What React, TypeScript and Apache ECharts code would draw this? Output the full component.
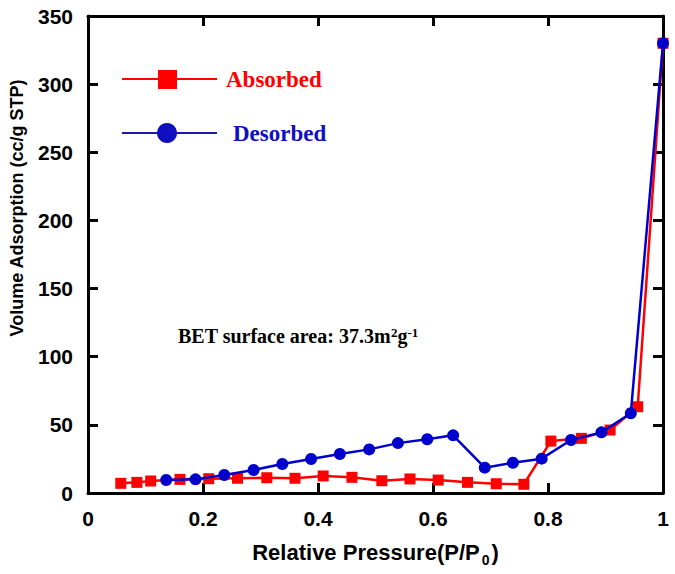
import React, { useEffect, useRef } from "react";
import * as echarts from "echarts";

const absX = [0.057, 0.085, 0.109, 0.16, 0.21, 0.26, 0.311, 0.36, 0.409, 0.459, 0.511, 0.56, 0.609, 0.66, 0.71, 0.758, 0.805, 0.858, 0.908, 0.956, 1.0];
const absY = [7.1, 7.8, 8.8, 10.0, 10.5, 10.8, 11.2, 10.8, 12.5, 11.5, 9.0, 10.3, 9.5, 7.8, 6.8, 6.4, 38.1, 40.1, 46.2, 63.3, 330];
const desX = [0.136, 0.187, 0.237, 0.288, 0.338, 0.388, 0.438, 0.489, 0.539, 0.59, 0.635, 0.69, 0.739, 0.789, 0.84, 0.893, 0.944, 1.0];
const desY = [9.5, 10.0, 13.2, 16.9, 21.3, 24.9, 28.6, 32.0, 36.6, 39.4, 42.3, 18.6, 22.2, 25.2, 38.9, 44.5, 58.5, 330];
const xTicks = { min: 0, max: 1, interval: 0.2 };
const yTicks = { min: 0, max: 350, interval: 50 };
const seriesNames = ["Absorbed", "Desorbed"];

const RED = "#ff0000";
const BLUE = "#0000cd";

export default function App() {
  const ref = useRef<HTMLDivElement>(null);
  useEffect(() => {
    if (!ref.current) return;
    const chart = echarts.init(ref.current, null, { renderer: "svg" });
    const axisLine = { show: true, onZero: false, lineStyle: { color: "#000", width: 3 } };
    const axisTick = { show: true, inside: true, length: 10, lineStyle: { color: "#000", width: 3 } };
    const labelStyle = {
      fontFamily: "Liberation Sans, Arial, sans-serif",
      fontWeight: "bold" as const,
      fontSize: 21,
      color: "#000",
    };
    chart.setOption({
      animation: false,
      backgroundColor: "#fff",
      grid: { left: 88, right: 12, top: 16, bottom: 81, containLabel: false, outerBoundsMode: "none" },
      xAxis: [
        {
          type: "value",
          ...xTicks,
          position: "bottom",
          axisLine,
          axisTick,
          splitLine: { show: false },
          axisLabel: {
            ...labelStyle,
            margin: 15,
            formatter: (v: number) => (v === 0 ? "0" : v === 1 ? "1" : String(Math.round(v * 10) / 10)),
          },
          name: "{a|Relative Pressure(P/P}{s|0}{a|)}",
          nameLocation: "middle",
          nameGap: 44,
          nameTextStyle: {
            rich: {
              a: { ...labelStyle, fontSize: 22 },
              s: { ...labelStyle, fontSize: 14, verticalAlign: "bottom", padding: [16, 2, 0, 2] },
            },
          },
        },
        {
          type: "value",
          ...xTicks,
          position: "top",
          axisLine,
          axisTick,
          axisLabel: { show: false },
          splitLine: { show: false },
        },
      ],
      yAxis: [
        {
          type: "value",
          ...yTicks,
          position: "left",
          axisLine,
          axisTick,
          splitLine: { show: false },
          axisLabel: { ...labelStyle, margin: 15 },
        },
        {
          type: "value",
          ...yTicks,
          position: "right",
          axisLine,
          axisTick,
          axisLabel: { show: false },
          splitLine: { show: false },
        },
      ],
      series: [
        {
          name: seriesNames[0],
          type: "line",
          data: absX.map((x, i) => [x, absY[i]]),
          symbol: "rect",
          symbolSize: 11,
          lineStyle: { color: RED, width: 2.5 },
          itemStyle: { color: RED },
          z: 2,
        },
        {
          name: seriesNames[1],
          type: "line",
          data: desX.map((x, i) => [x, desY[i]]),
          symbol: "circle",
          symbolSize: 12,
          lineStyle: { color: BLUE, width: 2.5 },
          itemStyle: { color: BLUE },
          z: 3,
        },
      ],
      graphic: [
        {
          type: "text",
          x: 17,
          y: 208,
          rotation: Math.PI / 2,
          style: {
            text: "Volume Adsorption (cc/g STP)",
            font: "bold 18px 'Liberation Sans', Arial, sans-serif",
            fill: "#000",
            align: "center",
            verticalAlign: "middle",
          },
        },
        { type: "line", shape: { x1: 122, y1: 79, x2: 217, y2: 79 }, style: { stroke: RED, lineWidth: 2 } },
        { type: "rect", shape: { x: 158, y: 70, width: 19, height: 19 }, style: { fill: RED } },
        {
          type: "text",
          x: 226,
          y: 79,
          style: {
            text: seriesNames[0],
            font: "bold 23px 'Liberation Serif', 'Times New Roman', serif",
            fill: RED,
            verticalAlign: "middle",
          },
        },
        { type: "line", shape: { x1: 122, y1: 133, x2: 217, y2: 133 }, style: { stroke: "#1a1aa8", lineWidth: 2 } },
        { type: "circle", shape: { cx: 167, cy: 133, r: 10 }, style: { fill: "#1010c0" } },
        {
          type: "text",
          x: 233,
          y: 133,
          style: {
            text: seriesNames[1],
            font: "bold 23px 'Liberation Serif', 'Times New Roman', serif",
            fill: "#1010c0",
            verticalAlign: "middle",
          },
        },
        {
          type: "text",
          x: 178,
          y: 336,
          style: {
            text: "{a|BET surface area: 37.3m}{s|2}{a|g}{s|-1}",
            verticalAlign: "middle",
            rich: {
              a: { font: "bold 20px 'Liberation Serif', 'Times New Roman', serif", fill: "#000" },
              s: {
                font: "bold 13px 'Liberation Serif', 'Times New Roman', serif",
                fill: "#000",
                verticalAlign: "top",
                padding: [0, 0, 8, 0],
              },
            },
          },
        },
      ],
    });
    return () => chart.dispose();
  }, []);
  return (
    <div
      ref={ref}
      style={{ position: "fixed", left: 0, top: 0, width: 675, height: 574, background: "#fff" }}
    />
  );
}
